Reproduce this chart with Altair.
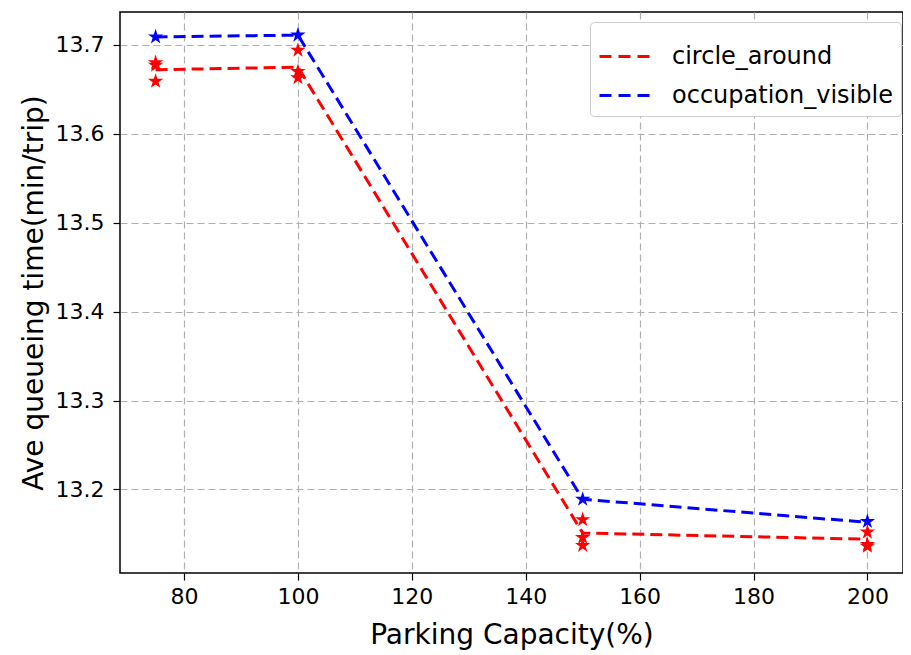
import altair as alt
import pandas as pd

capacity = [75, 100, 150, 200]
series = ["circle_around", "occupation_visible"]

# mean lines
circle_mean = [13.672, 13.675, 13.151, 13.144]
visible_mean = [13.709, 13.711, 13.189, 13.163]

# individual runs (stars)
circle_runs = [[13.680, 13.677, 13.659],
               [13.694, 13.670, 13.663],
               [13.166, 13.146, 13.137],
               [13.152, 13.138, 13.136]]
visible_runs = [[13.709], [13.711], [13.189], [13.164]]

line_rows = []
for c, m in zip(capacity, circle_mean):
    line_rows.append({"cap": c, "val": m, "series": series[0]})
for c, m in zip(capacity, visible_mean):
    line_rows.append({"cap": c, "val": m, "series": series[1]})
line_df = pd.DataFrame(line_rows)

pt_rows = []
for c, runs in zip(capacity, circle_runs):
    for v in runs:
        pt_rows.append({"cap": c, "val": v, "series": series[0]})
for c, runs in zip(capacity, visible_runs):
    for v in runs:
        pt_rows.append({"cap": c, "val": v, "series": series[1]})
pt_df = pd.DataFrame(pt_rows)

FONT = "DejaVu Sans"
W, H = 783, 561

STAR = ("M0,-1 L0.225,-0.309 L0.951,-0.309 L0.363,0.118 L0.588,0.809 L0,0.382 "
        "L-0.588,0.809 L-0.363,0.118 L-0.951,-0.309 L-0.225,-0.309 Z")

xscale = alt.Scale(domain=[68.75, 206.25], nice=False, zero=False)
yscale = alt.Scale(domain=[13.106, 13.737], nice=False, zero=False)
cscale = alt.Scale(domain=series, range=["#ff0000", "#0000ff"])

common = dict(grid=True, gridDash=[7, 4], gridColor="#b0b0b0", gridWidth=1.2,
              tickColor="black", tickSize=7, tickWidth=1.2, domain=False,
              labelFontSize=22, labelFont=FONT, labelColor="black",
              titleFontSize=28, titleFont=FONT, titleFontWeight="normal", titleColor="black")

xaxis = alt.Axis(values=[80, 100, 120, 140, 160, 180, 200], title="Parking Capacity(%)",
                 labelPadding=6, titlePadding=14, **common)
yaxis = alt.Axis(values=[13.2, 13.3, 13.4, 13.5, 13.6, 13.7], format=".1f",
                 title="Ave queueing time(min/trip)",
                 labelPadding=9, titlePadding=7, **common)

lines = alt.Chart(line_df).mark_line(strokeDash=[12, 6], strokeWidth=3).encode(
    x=alt.X("cap:Q", scale=xscale, axis=xaxis),
    y=alt.Y("val:Q", scale=yscale, axis=yaxis),
    color=alt.Color("series:N", scale=cscale, sort=series,
                    legend=alt.Legend(title=None, orient="none", legendX=470, legendY=10,
                                      symbolType="stroke", symbolDash=[12, 7], symbolStrokeWidth=3,
                                      symbolSize=2500, labelFontSize=24, labelFont=FONT,
                                      labelColor="black", labelOffset=21, labelLimit=0,
                                      rowPadding=0, padding=8,
                                      fillColor="white", strokeColor="#cccccc",
                                      cornerRadius=4)),
)

points = alt.Chart(pt_df).mark_point(shape=STAR, filled=True, size=260, opacity=1).encode(
    x=alt.X("cap:Q", scale=xscale),
    y=alt.Y("val:Q", scale=yscale),
    color=alt.Color("series:N", scale=cscale, legend=None),
)

chart = alt.layer(lines, points).properties(
    width=W, height=H,
    background="white",
    autosize=alt.AutoSizeParams(type="none"),
    padding={"left": 112, "top": 4, "right": 0, "bottom": 84},
).configure_view(stroke="black", strokeWidth=1.5)

chart.save("out.html", embed_options={"renderer": "svg", "actions": False})
